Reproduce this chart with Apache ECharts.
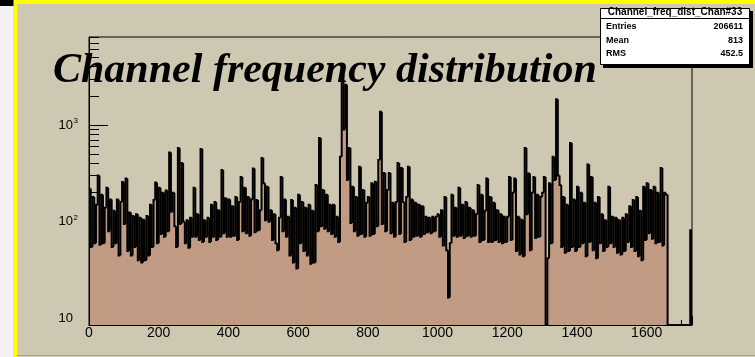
<!DOCTYPE html>
<html><head><meta charset="utf-8">
<script src="https://cdn.jsdelivr.net/npm/echarts@6/dist/echarts.min.js"></script>
<style>html,body{margin:0;padding:0;background:#CEC7B2;}#c{width:755px;height:357px;}</style>
</head><body><div id="c"></div>
<script>
// ---- data ----
const binWidth = 5;           // channels per bin
const counts = [
  220,55,180,60,150,300,58,190,60,140,225,80,170,55,130,60,170,45,160,258,
  95,280,50,125,45,115,55,120,40,110,38,105,40,115,45,150,55,168,255,60,
  225,75,200,70,210,80,520,127,200,90,55,580,95,405,100,60,104,54,110,70,
  225,70,120,65,565,62,104,70,110,62,150,70,160,65,132,70,343,76,175,70,
  170,70,145,72,180,65,160,290,80,225,76,180,72,170,355,78,168,82,132,455,
  250,104,230,100,132,65,120,60,51,110,290,80,170,70,113,45,168,38,140,33,
  190,60,160,50,140,45,150,37,130,38,240,80,735,90,213,85,190,80,150,75,
  150,70,113,62,470,3300,900,2600,270,580,97,230,80,180,72,370,75,213,70,157,
  180,72,250,75,260,90,435,1370,95,320,80,213,320,76,157,70,160,405,75,360,
  160,62,180,370,65,170,70,157,72,150,70,145,75,113,78,110,76,113,80,113,
  120,70,132,57,180,51,16.5,60,190,72,140,70,225,72,150,68,160,72,140,70,
  132,72,120,240,62,190,65,130,280,62,180,62,157,65,132,62,120,60,113,62,
  113,290,65,200,280,50,113,46,105,44,580,120,315,51,200,290,68,190,70,180,
  200,290,0,42,250,60,470,270,1840,300,240,55,180,48,150,50,650,55,170,50,
  230,55,200,60,157,44,390,62,290,51,157,42,180,60,120,50,104,55,230,60,
  113,55,110,48,104,46,110,50,120,62,145,55,168,50,180,44,130,40,230,65,
  250,76,213,67,230,60,200,62,360,57,200,190,
  0,0,0,0,0,0,0,0,0,0,0,0,0,82
];
const xTicks = [0,200,400,600,800,1000,1200,1400,1600];
const yMajorTicks = [10,100,1000];
const yMinorTicks = [9,20,30,40,50,60,70,80,90,200,300,400,500,600,700,800,900,2000,3000,4000,5000,6000,7000,8000];
const titleText = 'Channel frequency distribution';
const statsTitle = 'Channel_freq_dist_Chan#33';
const statsNames = ['Entries','Mean','RMS'];
const statsValues = ['206611','813','452.5'];

// ---- chart ----
const xMin = 0, xMax = 1730, yMin = 8.6, yMax = 8100;
const floorV = v => Math.max(v, yMin);   // empty bins sit on the axis floor, as in ROOT
// one item per bin: [low edge, high edge, content, previous bin content]
const bins = counts.map((v, i) => [i * binWidth, (i + 1) * binWidth, floorV(v), i ? floorV(counts[i - 1]) : yMin]);

const chart = echarts.init(document.getElementById('c'), null, {renderer: 'canvas'});
const statsElems = [
  {type:'rect', shape:{x:603,y:11,width:150,height:57}, style:{fill:'#000'}, z:100},
  {type:'rect', shape:{x:600.5,y:8.5,width:149,height:56}, style:{fill:'#FFFFFF', stroke:'#000', lineWidth:1}, z:101},
  {type:'line', shape:{x1:600,y1:18.5,x2:750,y2:18.5}, style:{stroke:'#000', lineWidth:1}, z:102},
  {type:'text', x:675, y:12.5, style:{text:statsTitle, fill:'#000', font:'bold 10px "Liberation Sans"', textAlign:'center', textVerticalAlign:'middle'}, z:103}
];
statsNames.forEach((n, i) => {
  statsElems.push({type:'text', x:606, y:27 + i*13.5, style:{text:n, fill:'#000', font:'bold 9px "Liberation Sans"', textAlign:'left', textVerticalAlign:'middle'}, z:103});
  statsElems.push({type:'text', x:743, y:27 + i*13.5, style:{text:statsValues[i], fill:'#000', font:'bold 9px "Liberation Sans"', textAlign:'right', textVerticalAlign:'middle'}, z:103});
});

function fillItem(params, api) {
  const p0 = api.coord([api.value(0), yMin]);
  const p1 = api.coord([api.value(1), api.value(2)]);
  // slight overlap between neighbouring bins hides anti-aliasing seams
  return {type: 'rect', shape: {x: p0[0] - 0.4, y: p1[1], width: p1[0] - p0[0] + 0.8, height: p0[1] - p1[1]},
          style: {fill: '#C19B83'}};
}
function edgeItem(params, api) {
  const a = api.coord([api.value(0), api.value(3)]);
  const b = api.coord([api.value(0), api.value(2)]);
  const c = api.coord([api.value(1), api.value(2)]);
  const pts = [a, b, c];
  if (params.dataIndex === params.dataInsideLength - 1) pts.push(api.coord([api.value(1), yMin]));
  return {type: 'polyline', shape: {points: pts}, style: {stroke: '#000', lineWidth: 2, fill: null, lineJoin: 'miter'}};
}

chart.setOption({
  animation: false,
  backgroundColor: '#CEC7B2',
  title: {
    text: titleText, left: 48, top: 45, z: 50,
    textStyle: {fontFamily:'Liberation Serif', fontStyle:'italic', fontWeight:'bold', fontSize:42, color:'#000'}
  },
  grid: {left: 89, top: 37, right: 63, bottom: 32, show: true, borderColor: '#000', borderWidth: 1, backgroundColor: 'transparent'},
  xAxis: {
    type: 'value', min: xMin, max: xMax, interval: 200,
    axisLine: {show: true, onZero: false, lineStyle: {color: '#000', width: 1}},
    axisTick: {show: true, inside: true, length: 9, lineStyle: {color: '#000', width: 1}},
    minorTick: {show: true, splitNumber: 4, length: 5, lineStyle: {color: '#000', width: 1}},
    axisLabel: {customValues: xTicks, color: '#000', fontSize: 14, fontFamily: 'Liberation Sans', margin: 1, formatter: v => String(v)},
    splitLine: {show: false}
  },
  yAxis: [{
    type: 'log', logBase: 10, min: yMin, max: yMax,
    axisLine: {show: true, lineStyle: {color: '#000', width: 1}},
    axisTick: {show: true, inside: true, length: 19, customValues: yMajorTicks, lineStyle: {color: '#000', width: 1}},
    axisLabel: {
      customValues: yMajorTicks, margin: 11, color: '#000',
      formatter: v => { const e = Math.round(Math.log10(v)); return e === 1 ? '{b|10}{s| }' : '{b|10}{s|' + e + '}'; },
      rich: {
        b: {fontSize: 13, fontFamily: 'Liberation Sans', color: '#000'},
        s: {fontSize: 8, fontFamily: 'Liberation Sans', color: '#000', width: 5, verticalAlign: 'top', padding: [0,0,8,0]}
      }
    },
    splitLine: {show: false}
  }, {
    type: 'log', logBase: 10, min: yMin, max: yMax, position: 'left',
    axisLine: {show: false},
    axisTick: {show: true, inside: true, length: 10, customValues: yMinorTicks, lineStyle: {color: '#000', width: 1}},
    axisLabel: {show: false},
    splitLine: {show: false}
  }],
  graphic: [
    {type:'rect', shape:{x:0,y:0,width:13.5,height:357}, style:{fill:'#F4F1F6'}, z:-10},
    {type:'rect', shape:{x:13.5,y:0,width:4,height:357}, style:{fill:'#FFFF00'}, z:-9},
    {type:'rect', shape:{x:13.5,y:0,width:742,height:4}, style:{fill:'#FFFF00'}, z:-9},
    {type:'rect', shape:{x:0,y:0,width:13.5,height:6}, style:{fill:'#000'}, z:-8},
    {type:'line', shape:{x1:17,y1:355.5,x2:755,y2:355.5}, style:{stroke:'#ABA386', lineWidth:1}, z:-8}
  ].concat(statsElems),
  series: [{
    type: 'custom', data: bins, renderItem: fillItem, clip: true,
    xAxisIndex: 0, yAxisIndex: 0, encode: {x: [0, 1], y: 2}, z: 2
  }, {
    type: 'custom', data: bins, renderItem: edgeItem, clip: true,
    xAxisIndex: 0, yAxisIndex: 0, encode: {x: [0, 1], y: [2, 3]}, z: 3
  }]
});
</script></body></html>
